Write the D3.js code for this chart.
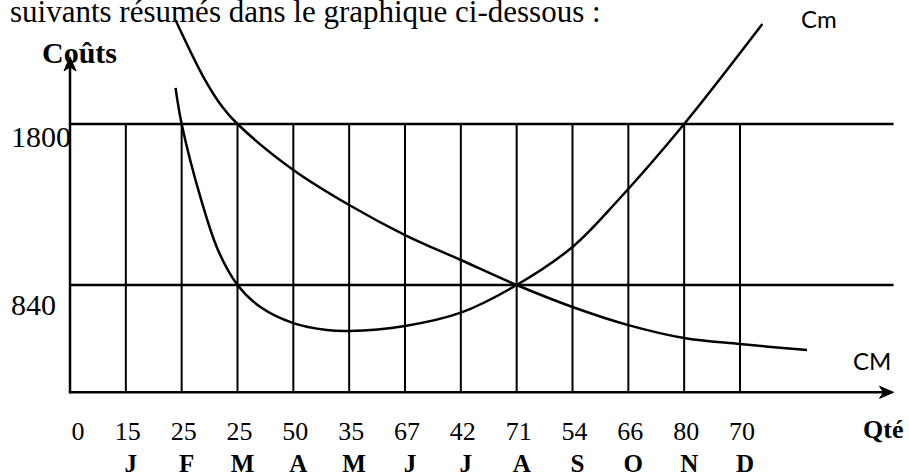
<!DOCTYPE html>
<html>
<head>
<meta charset="utf-8">
<script src="https://cdn.jsdelivr.net/npm/d3@7"></script>
<style>
body { margin: 0; background: #fff; }
svg text { fill: #000; }
.serif { font-family: "Liberation Serif", "Times New Roman", serif; }
.sans { font-family: Lato, "Open Sans", sans-serif; }
</style>
</head>
<body>
<div id="chart-area"></div>
<script>
var canvasWidth = 909
var canvasHeight = 476

// month letters under each vertical line, quantities under axis + lines
var months = ["J", "F", "M", "A", "M", "J", "J", "A", "S", "O", "N", "D"]
var quantities = [0, 15, 25, 25, 50, 35, 67, 42, 71, 54, 66, 80, 70]
var costTicks = [840, 1800]

// curves as [position on the month grid, cost]
var cmCurve = [[1.89, 2015], [2, 1800], [2.35, 1347], [2.65, 1049], [3, 840], [3.41, 709],
	[4, 613], [4.6, 572], [5, 566], [6, 596], [7, 675], [8, 840], [9, 1067], [9.82, 1347],
	[11, 1800], [12.4, 2396]]
var CMCurve = [[1.89, 2420], [2.4, 2074], [2.73, 1901], [3, 1800], [4, 1526],
	[5, 1317], [6, 1138], [7, 989], [8, 840], [9, 709], [10, 601], [11, 524], [12, 488], [13.2, 452]]

var xEnd = 14.75
var yBase = 200, yTop = 2200

var x = d3.scaleLinear()
	.domain([0, 12])
	.range([70, 740])

var y = d3.scaleLinear()
	.domain([840, 1800])
	.range([285, 124])

var svg = d3.select("#chart-area")
	.append("svg")
	.attr("width", canvasWidth)
	.attr("height", canvasHeight)

// intro sentence at the very top
svg.append("text")
	.attr("class", "serif")
	.attr("x", 10)
	.attr("y", 22)
	.attr("font-size", "31px")
	.text("suivants résumés dans le graphique ci-dessous :")

// vertical month lines
svg.append("g")
	.selectAll("line")
	.data(months)
	.enter().append("line")
		.attr("x1", function(d, i){ return x(i + 1) })
		.attr("x2", function(d, i){ return x(i + 1) })
		.attr("y1", y(1800))
		.attr("y2", y(yBase))
		.attr("stroke", "#000")
		.attr("stroke-width", 2)

// horizontal cost lines
svg.append("g")
	.selectAll("line")
	.data(costTicks)
	.enter().append("line")
		.attr("x1", x(0))
		.attr("x2", x(xEnd))
		.attr("y1", function(d){ return y(d) })
		.attr("y2", function(d){ return y(d) })
		.attr("stroke", "#000")
		.attr("stroke-width", 2.5)

svg.append("g")
	.selectAll("text")
	.data(costTicks)
	.enter().append("text")
		.attr("class", "serif")
		.attr("x", 11)
		.attr("y", function(d){ return y(d) + (d == 1800 ? 23 : 30) })
		.attr("font-size", "30px")
		.text(function(d){ return d })

// axes with arrow heads
svg.append("line")
	.attr("x1", x(0)).attr("x2", x(0))
	.attr("y1", y(yBase) + 1).attr("y2", y(yTop) + 6)
	.attr("stroke", "#000").attr("stroke-width", 2.5)

svg.append("line")
	.attr("x1", x(0) - 1).attr("x2", x(xEnd) - 6)
	.attr("y1", y(yBase)).attr("y2", y(yBase))
	.attr("stroke", "#000").attr("stroke-width", 2.5)

var tipY = [x(0), y(yTop)]
svg.append("path")
	.attr("d", "M" + tipY[0] + "," + tipY[1] + " l-6,14 l6,-4 l6,4 z")
	.attr("fill", "#000").attr("stroke", "#000").attr("stroke-width", 1)

var tipX = [x(xEnd), y(yBase)]
svg.append("path")
	.attr("d", "M" + tipX[0] + "," + tipX[1] + " l-14,-6 l4,6 l-4,6 z")
	.attr("fill", "#000").attr("stroke", "#000").attr("stroke-width", 1)

svg.append("text")
	.attr("class", "serif")
	.attr("x", 42)
	.attr("y", 63)
	.attr("font-size", "30px")
	.attr("font-weight", "bold")
	.text("Coûts")

// quantities and months
svg.append("g")
	.selectAll("text")
	.data(quantities)
	.enter().append("text")
		.attr("class", "serif")
		.attr("x", function(d, i){ return x(i) + (i == 0 ? 8 : 2) })
		.attr("y", 440)
		.attr("text-anchor", "middle")
		.attr("font-size", "26px")
		.text(function(d){ return d })

svg.append("g")
	.selectAll("text")
	.data(months)
	.enter().append("text")
		.attr("class", "serif")
		.attr("x", function(d, i){ return x(i + 1) + 5 })
		.attr("y", 472)
		.attr("text-anchor", "middle")
		.attr("font-size", "25px")
		.attr("font-weight", "bold")
		.text(function(d){ return d })

svg.append("text")
	.attr("class", "serif")
	.attr("x", 863)
	.attr("y", 438)
	.attr("font-size", "26px")
	.attr("font-weight", "bold")
	.text("Qté")

// cost curves
var line = d3.line()
	.x(function(d){ return x(d[0]) })
	.y(function(d){ return y(d[1]) })
	.curve(d3.curveCatmullRom.alpha(0.5))

svg.append("path")
	.datum(cmCurve)
	.attr("d", line)
	.attr("fill", "none")
	.attr("stroke", "#000")
	.attr("stroke-width", 2.5)

svg.append("path")
	.datum(CMCurve)
	.attr("d", line)
	.attr("fill", "none")
	.attr("stroke", "#000")
	.attr("stroke-width", 2.5)

svg.append("text")
	.attr("class", "sans")
	.attr("x", 801)
	.attr("y", 28)
	.attr("font-size", "24px")
	.text("Cm")

svg.append("text")
	.attr("class", "sans")
	.attr("x", 853)
	.attr("y", 370)
	.attr("font-size", "24px")
	.text("CM")
</script>
</body>
</html>
